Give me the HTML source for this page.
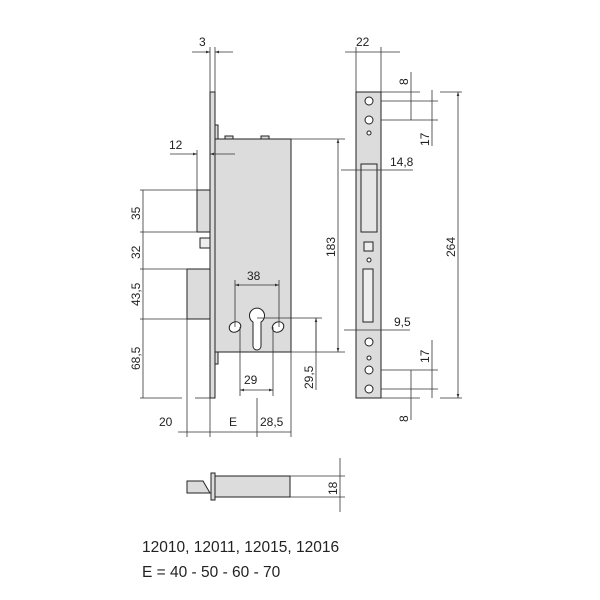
<!DOCTYPE html>
<html><head><style>body{margin:0;background:#fff}svg{display:block}text{font-family:"Liberation Sans",Arial,sans-serif;fill:#222}</style></head>
<body>
<svg width="600" height="600" viewBox="0 0 600 600" xmlns="http://www.w3.org/2000/svg">
<defs><marker id="a" viewBox="0 0 6 6" refX="6" refY="3" markerWidth="5" markerHeight="5" orient="auto-start-reverse"><path d="M0,1 L6,3 L0,5z" fill="#333"/></marker></defs>
<g stroke="#222" stroke-width="1" fill="#dcdcdc">
<rect x="215" y="139" width="76" height="213"/>
<rect x="210" y="92" width="5" height="306"/>
<rect x="197" y="190" width="13" height="42"/>
<rect x="200" y="238" width="10" height="10" fill="#eee"/>
<rect x="187" y="269" width="23" height="50"/>
<rect x="225" y="136" width="8" height="3"/><rect x="261" y="136" width="8" height="3"/>
<rect x="215" y="125" width="3" height="14"/><rect x="215" y="352" width="3" height="12"/>
<path d="M253,346 L253,322 A7.5,7.5 0 1 1 261,322 L261,346 A4,4 0 0 1 253,346Z" fill="#fff"/>
<ellipse cx="235" cy="327" rx="6" ry="5" fill="#fff" transform="rotate(-30 235 327)"/>
<ellipse cx="278" cy="327" rx="6" ry="5" fill="#fff" transform="rotate(-30 278 327)"/>
<rect x="356" y="92" width="25" height="306"/>
<rect x="361" y="164" width="16" height="68" fill="#e6e6e6"/>
<rect x="363" y="269" width="10" height="53" fill="#eee"/>
<rect x="364" y="242" width="9" height="9" fill="#eee"/>
<circle cx="369" cy="101" r="4" fill="#fff"/><circle cx="369" cy="120" r="4" fill="#fff"/>
<circle cx="369" cy="133" r="2" fill="#fff"/><circle cx="369" cy="260" r="2" fill="#fff"/>
<circle cx="369" cy="342" r="4" fill="#fff"/><circle cx="369" cy="358" r="2" fill="#fff"/>
<circle cx="369" cy="370" r="4" fill="#fff"/><circle cx="369" cy="389" r="4" fill="#fff"/>
<rect x="215" y="476" width="75" height="21"/>
<rect x="211" y="473" width="4" height="27"/>
<path d="M187,481 L203,481 L210,493 L187,493Z"/>
</g>
<g stroke="#333" stroke-width="0.8" fill="none">
<line x1="143" y1="190" x2="143" y2="398"/>
<line x1="140" y1="190" x2="197" y2="190"/><line x1="140" y1="232" x2="197" y2="232"/>
<line x1="140" y1="269" x2="187" y2="269"/><line x1="140" y1="319" x2="187" y2="319"/>
<line x1="140" y1="398" x2="182" y2="398"/><line x1="195" y1="398" x2="210" y2="398"/>
<line x1="197" y1="150" x2="197" y2="190"/>
<line x1="170" y1="154" x2="197" y2="154" marker-end="url(#a)"/><line x1="235" y1="154" x2="210" y2="154" marker-end="url(#a)"/>
<line x1="210" y1="47" x2="210" y2="92"/><line x1="215" y1="47" x2="215" y2="92"/>
<line x1="192" y1="52" x2="210" y2="52" marker-end="url(#a)"/><line x1="233" y1="52" x2="215" y2="52" marker-end="url(#a)"/>
<line x1="291" y1="139" x2="345" y2="139"/><line x1="291" y1="352" x2="345" y2="352"/>
<line x1="338" y1="139" x2="338" y2="352" marker-start="url(#a)" marker-end="url(#a)"/>
<line x1="235" y1="280" x2="235" y2="327"/><line x1="279" y1="280" x2="279" y2="327"/>
<line x1="235" y1="285" x2="279" y2="285" marker-start="url(#a)" marker-end="url(#a)"/>
<line x1="240" y1="327" x2="240" y2="396"/><line x1="273" y1="327" x2="273" y2="396"/>
<line x1="240" y1="390" x2="273" y2="390" marker-start="url(#a)" marker-end="url(#a)"/>
<line x1="257" y1="318" x2="322" y2="318"/>
<line x1="316" y1="318" x2="316" y2="390"/>
<line x1="316" y1="318" x2="316" y2="352" marker-start="url(#a)"/>
<line x1="187" y1="319" x2="187" y2="437"/><line x1="210" y1="398" x2="210" y2="437"/>
<line x1="257" y1="398" x2="257" y2="437"/><line x1="291" y1="352" x2="291" y2="437"/>
<line x1="178" y1="432" x2="291" y2="432"/>
<line x1="356" y1="47" x2="356" y2="92"/><line x1="381" y1="47" x2="381" y2="92"/>
<line x1="345" y1="52" x2="400" y2="52"/>
<line x1="381" y1="92" x2="420" y2="92"/><line x1="381" y1="101" x2="438" y2="101"/>
<line x1="381" y1="120" x2="438" y2="120"/>
<line x1="411" y1="72" x2="411" y2="120"/><line x1="432" y1="90" x2="432" y2="146"/>
<line x1="440" y1="92" x2="462" y2="92"/><line x1="440" y1="398" x2="462" y2="398"/>
<line x1="458" y1="92" x2="458" y2="398" marker-start="url(#a)" marker-end="url(#a)"/>
<line x1="341" y1="170" x2="413" y2="170"/>
<line x1="344" y1="330" x2="410" y2="330"/>
<line x1="381" y1="370" x2="438" y2="370"/><line x1="381" y1="389" x2="438" y2="389"/>
<line x1="381" y1="398" x2="420" y2="398"/>
<line x1="432" y1="340" x2="432" y2="398"/><line x1="411" y1="370" x2="411" y2="420"/>
<line x1="290" y1="476" x2="345" y2="476"/><line x1="290" y1="497" x2="345" y2="497"/>
<line x1="340" y1="458" x2="340" y2="512"/>
</g>
<g font-size="12">
<text x="199" y="46">3</text>
<text x="169" y="149">12</text>
<text x="356" y="46">22</text>
<text x="390" y="166">14,8</text>
<text x="394" y="326">9,5</text>
<text x="247" y="280">38</text>
<text x="244" y="384">29</text>
<text x="159" y="426">20</text>
<text x="229" y="426">E</text>
<text x="260" y="426">28,5</text>
<text transform="translate(140 220) rotate(-90)">35</text>
<text transform="translate(140 259) rotate(-90)">32</text>
<text transform="translate(140 306) rotate(-90)">43,5</text>
<text transform="translate(140 370) rotate(-90)">68,5</text>
<text transform="translate(335 257) rotate(-90)">183</text>
<text transform="translate(313 389) rotate(-90)">29,5</text>
<text transform="translate(455 257) rotate(-90)">264</text>
<text transform="translate(408 85) rotate(-90)">8</text>
<text transform="translate(429 146) rotate(-90)">17</text>
<text transform="translate(429 363) rotate(-90)">17</text>
<text transform="translate(408 422) rotate(-90)">8</text>
<text transform="translate(337 495) rotate(-90)">18</text>
</g>
<text x="142" y="552" font-size="15.5">12010, 12011, 12015, 12016</text>
<text x="142" y="577" font-size="15.5">E = 40 - 50 - 60 - 70</text>
</svg>
</body></html>
